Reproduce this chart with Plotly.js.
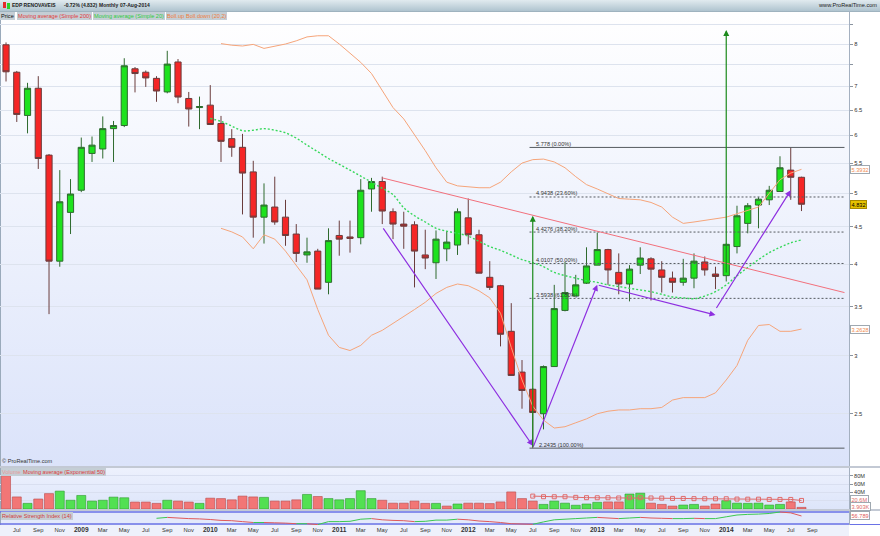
<!DOCTYPE html>
<html><head><meta charset="utf-8">
<script src="https://cdn.plot.ly/plotly-3.0.1.min.js"></script>
<style>
body{margin:0;background:#fff;}
#wrap{position:relative;width:880px;height:536px;overflow:hidden;background:#fff;font-family:"Liberation Sans",Arial,sans-serif;}
.bg{position:absolute;}
#chart{position:absolute;left:0;top:0;width:880px;height:536px;z-index:2;}
.t{position:absolute;white-space:nowrap;font-size:5.6px;line-height:9px;z-index:3;}
.h{position:absolute;white-space:nowrap;font-size:5px;line-height:9px;z-index:3;font-weight:bold;color:#1c1c1c;}
.box{position:absolute;white-space:nowrap;font-size:5.6px;line-height:8px;height:8px;background:#c4ced5;z-index:3;padding:0 1px;}
</style></head>
<body>
<div id="wrap">
  <div class="bg" style="left:0;top:0;width:880px;height:11px;background:linear-gradient(#e1eaef,#afc4cf);border-bottom:1px solid #9fb3bf;"></div>
  <div class="bg" style="left:0;top:12px;width:849px;height:454px;background:linear-gradient(#ffffff,#dbe3fa);border-left:1px solid #9aaabb;box-sizing:border-box;"></div>
  <div class="bg" style="left:0;top:466px;width:880px;height:2px;background:#c3c9d4;"></div>
  <div class="bg" style="left:0;top:468px;width:849px;height:41px;background:linear-gradient(#edf1fd,#dde5fa);border-left:1px solid #9aaabb;box-sizing:border-box;"></div>
  <div class="bg" style="left:0;top:509px;width:880px;height:2px;background:#c3c9d4;"></div>
  <div class="bg" style="left:0;top:511px;width:849px;height:14px;background:#e3e9fb;border-left:1px solid #9aaabb;box-sizing:border-box;"></div>
  <div class="bg" style="left:0;top:525px;width:849px;height:11px;background:#eef1fb;"></div>
  <div class="bg" style="left:849px;top:523.5px;width:31px;height:1.5px;background:#6a72e6;"></div>
  <div id="chart"></div>
  <div class="bg" style="left:3px;top:2px;width:3px;height:6px;background:#e52b2b;z-index:3;"></div>
  <div class="bg" style="left:7px;top:3px;width:3px;height:6px;background:#2bd12b;z-index:3;"></div>
  <div class="h" style="left:12px;top:1px;">EDP RENOVAVEIS</div>
  <div class="h" style="left:64px;top:1px;">-0.72% (4.832)</div>
  <div class="h" style="left:99px;top:1px;">Monthly</div>
  <div class="h" style="left:120px;top:1px;">07-Aug-2014</div>
  <div class="t" style="right:3px;top:1px;color:#1c1c1c;">www.ProRealTime.com</div>
  <div class="box" style="left:0;top:12px;color:#111;">Price</div>
  <div class="box" style="left:17px;top:12px;color:#e23a3a;">Moving average (Simple 200)</div>
  <div class="box" style="left:93px;top:12px;color:#2fcb41;">Moving average (Simple 20)</div>
  <div class="box" style="left:166px;top:12px;color:#ef7d3c;">Boll.up</div>
  <div class="box" style="left:185px;top:12px;color:#ef7d3c;">Boll.down (20,2)</div>
  <div class="t" style="left:2px;top:457px;color:#333;">© ProRealTime.com</div>
  <div class="box" style="left:1px;top:468px;color:#e49a9a;">Volume</div>
  <div class="box" style="left:22px;top:468px;color:#dd3b3b;">Moving average (Exponential 50)</div>
  <div class="box" style="left:1px;top:512px;color:#d23c3c;">Relative Strength Index (14)</div>
</div>
<script>
// ---- data ----
const months = ['2008-06','2008-07','2008-08','2008-09','2008-10','2008-11','2008-12',
'2009-01','2009-02','2009-03','2009-04','2009-05','2009-06','2009-07','2009-08','2009-09','2009-10','2009-11','2009-12',
'2010-01','2010-02','2010-03','2010-04','2010-05','2010-06','2010-07','2010-08','2010-09','2010-10','2010-11','2010-12',
'2011-01','2011-02','2011-03','2011-04','2011-05','2011-06','2011-07','2011-08','2011-09','2011-10','2011-11','2011-12',
'2012-01','2012-02','2012-03','2012-04','2012-05','2012-06','2012-07','2012-08','2012-09','2012-10','2012-11','2012-12',
'2013-01','2013-02','2013-03','2013-04','2013-05','2013-06','2013-07','2013-08','2013-09','2013-10','2013-11','2013-12',
'2014-01','2014-02','2014-03','2014-04','2014-05','2014-06','2014-07','2014-08'];

const open  = [7.98,7.32,6.39,6.96,5.64,4.04,4.71, 5.05,5.67,5.75,6.13,6.19,7.40,7.32,7.18,6.88,7.56,6.74,6.55,
 6.60,6.23,5.94,5.78,5.35,4.64,4.79,4.64,4.40,4.12,4.17,3.78, 4.38,4.36,4.35,5.07,5.19,4.72,4.54,4.53,4.12,4.02,4.20,4.25,
 4.63,4.39,3.84,3.74,3.24,2.85,2.70,2.50,2.90,3.46,3.62,3.77, 3.99,4.19,3.90,3.76,3.99,4.07,3.93,3.83,3.78,3.83,4.03,3.88,
 3.86,4.23,4.55,4.82,4.90,5.03,5.38,5.26];
const high  = [8.04,7.35,7.08,7.23,5.66,5.38,5.23, 5.96,5.98,6.37,6.28,7.65,7.44,7.36,7.23,7.83,7.63,6.88,6.78,
 7.03,6.38,6.12,6.03,5.54,5.16,5.27,4.90,4.54,4.35,4.20,4.48, 4.59,4.59,5.23,5.25,5.27,4.77,4.72,4.58,4.46,4.45,4.44,4.77,
 4.92,4.46,4.04,3.75,3.54,2.96,2.71,2.91,3.75,4.03,3.87,4.22, 4.42,4.20,4.14,3.99,4.22,4.09,4.04,3.91,4.07,4.14,4.10,3.97,
 4.27,4.81,4.85,4.94,5.12,5.62,5.778,5.27];
const low   = [7.11,6.26,6.04,5.40,3.42,3.97,4.40, 5.02,5.52,5.58,5.52,6.16,6.87,6.99,6.67,6.85,6.64,6.17,6.12,
 6.20,5.52,5.61,4.68,4.35,4.27,4.53,4.24,4.03,4.02,3.70,3.64, 4.11,4.15,4.26,4.72,4.54,4.33,4.20,3.72,3.94,3.82,4.04,4.12,
 4.26,3.89,3.69,3.09,2.82,2.54,2.2435,2.38,2.90,3.45,3.62,3.76, 3.99,3.75,3.64,3.56,3.88,3.57,3.66,3.66,3.74,3.71,3.86,3.70,
 3.79,4.14,4.41,4.48,4.82,5.03,4.90,4.73];
const close = [7.33,6.41,6.96,5.58,4.04,4.87,4.99, 5.78,5.82,6.13,6.19,7.47,7.29,7.19,6.90,7.51,6.77,6.52,6.57,
 6.21,5.89,5.78,5.33,4.64,4.82,4.57,4.38,4.14,4.16,3.70,4.31, 4.33,4.34,5.05,5.19,4.73,4.54,4.51,4.17,4.08,4.33,4.29,4.72,
 4.39,3.89,3.72,3.21,2.82,2.69,2.51,2.90,3.48,3.66,3.75,3.98, 4.19,3.93,3.76,3.94,4.08,3.94,3.84,3.78,3.83,4.04,3.93,3.85,
 4.26,4.66,4.81,4.91,5.05,5.42,5.26,4.832];

// volume in millions
const volume = [80,29,13.5,24,37,43,21, 32.5,19,21,28.5,27,16.7,16.7,13.5,21,19,16.7,13.5,
 26,25,22,31,29,28,19,19,22,35,30,25, 22,25,44,25,21,14,14,19,13.5,13.5,7,12,
 14,14,13,17,41,25,19,11,19,14,9,12, 16,17,17,36,38,14,11,7,9.5,11,7,12,
 20,14,13.5,14,9.5,11,17,3.903];
const volEma50 = [null,null,null,null,null,null,null,null,null,null,null,null,null,null,null,null,null,null,null,null,
 null,null,null,null,null,null,null,null,null,null,null,null,null,null,null,null,null,null,null,null,
 null,null,null,null,null,null,null,null,null,
 31,29.5,29.4,29.4,28,27.2,27,27,26.5,27,27.2,26.5,26.2,25.5,25.4,24.8,24.6,24.5,24.6,23.8,23.6,23.6,23,23,23,20.6];

const sma20 = [null,null,null,null,null,null,null,null,null,null,null,null,null,null,null,null,null,null,null,
 6.33,6.27,6.18,6.09,6.10,6.13,6.10,6.05,5.95,5.82,5.70,5.58,5.48,5.38,5.28,5.18,5.08,4.98,4.78,4.66,4.57,4.48,
 4.44,4.41,4.37,4.30,4.23,4.18,4.12,4.06,4.02,3.97,3.90,3.86,3.83,3.80,3.78,3.75,3.73,3.71,3.69,3.67,3.64,3.61,
 3.60,3.59,3.62,3.67,3.75,3.86,3.96,4.06,4.15,4.22,4.28,4.32];
const bollUp = [null,null,null,null,null,null,null,null,null,null,null,null,null,null,null,null,null,null,null,null,
 8.01,7.97,7.95,7.99,7.89,7.94,8.00,8.08,8.18,8.21,8.21,8.00,7.77,7.55,7.29,6.90,6.55,6.32,6.02,5.72,5.42,5.18,5.12,
 5.10,5.09,5.09,5.18,5.35,5.50,5.56,5.57,5.52,5.42,5.27,5.14,5.07,5.00,4.92,4.91,4.90,4.86,4.79,4.64,4.55,4.57,
 4.59,4.61,4.64,4.69,4.74,4.79,5.00,5.22,5.33,5.3932];
const bollDown = [null,null,null,null,null,null,null,null,null,null,null,null,null,null,null,null,null,null,null,null,
 4.48,4.43,4.36,4.20,4.39,4.33,4.17,3.98,3.81,3.47,3.20,3.08,3.05,3.10,3.20,3.25,3.32,3.40,3.47,3.55,3.65,3.72,3.76,
 3.74,3.68,3.60,3.43,3.08,2.78,2.56,2.45,2.39,2.40,2.43,2.46,2.50,2.52,2.53,2.53,2.54,2.54,2.55,2.61,2.63,2.63,
 2.63,2.67,2.78,2.91,3.15,3.30,3.31,3.24,3.24,3.2628];

const rsi14 = [null,null,null,null,null,null,null,null,null,null,null,null,null,null,
 49,52,50,48,47,45,42,41,38,35,35,34,33,31,31,28,38,38,39,46,48,44,42,41,38,39,43,43,46,44,40,38,35,31,30,29,
 37,44,46,48,50,52,50,48,50,52,50,49,48,48,49,48,48,54,60,62,63,65,70,67,56.789];

const tickLabels = ['Jul','Sep','Nov','2009','Mar','May','Jul','Sep','Nov','2010','Mar','May','Jul','Sep','Nov',
 '2011','Mar','May','Jul','Sep','Nov','2012','Mar','May','Jul','Sep','Nov','2013','Mar','May','Jul','Sep','Nov',
 '2014','Mar','May','Jul','Sep'];
const priceTicks = [2.5,3,3.5,4,4.5,5,5.5,6,6.5,7,7.5,8,8.5];
const priceTickText = ['2.5','3','3.5','4','4.5','5','5.5','6','6.5','7','','8',''];
const volTagText = ['20.6M','3.903K'];

// drawn objects
const fibLevels = [5.778,4.9438,4.4276,4.0107,3.5938,2.2435];
const fibPct = ['0.00%','23.60%','38.20%','50.00%','61.80%','100.00%'];
const fibFrom = '2012-07', fibTo = '2014-12';
const trendLine = [['2011-05',5.25],['2014-12',3.66]];
const purpleArrows = [
  [['2011-05',4.50],['2012-07',2.26]],
  [['2012-07',2.2435],['2013-01',3.75]],
  [['2013-01',3.75],['2013-12',3.41]],
  [['2013-12',3.47],['2014-07',5.05]]
];
const greenArrows = [
  [['2012-07',2.2435],['2012-07',4.66]],
  [['2014-01',3.88],['2014-01',8.36]]
];

// ---- build ----
const mIdx = m => { const p = m.split('-').map(Number); return (p[0]-2008)*12 + p[1] - 6; };
const L = Math.log10;
const xs = months.map(mIdx);
const xRange = [-0.56, 78.42];

const traces = [];
const fibSolid = {x:[],y:[]}, fibDash = {x:[],y:[]};
fibLevels.forEach((v,i)=>{
  const t = (i===0 || i===fibLevels.length-1) ? fibSolid : fibDash;
  t.x.push(mIdx(fibFrom)-0.3, mIdx(fibTo), null); t.y.push(v, v, null);
});
traces.push({type:'scatter',mode:'lines',x:fibSolid.x,y:fibSolid.y,line:{color:'#555a60',width:1},hoverinfo:'skip'});
traces.push({type:'scatter',mode:'lines',x:fibDash.x,y:fibDash.y,line:{color:'#555a60',width:1,dash:'2px,2px'},hoverinfo:'skip'});

traces.push({type:'candlestick',x:xs,open:open,high:high,low:low,close:close,
  increasing:{fillcolor:'#1ee21e',line:{color:'#2e6a2e',width:1}},
  decreasing:{fillcolor:'#f52626',line:{color:'#6a3c3c',width:1}},
  whiskerwidth:0,hoverinfo:'skip'});

traces.push({type:'scatter',mode:'lines',x:xs,y:bollUp,line:{color:'#f6a57a',width:1},hoverinfo:'skip'});
traces.push({type:'scatter',mode:'lines',x:xs,y:bollDown,line:{color:'#f6a57a',width:1},hoverinfo:'skip'});
traces.push({type:'scatter',mode:'lines',x:xs,y:sma20,line:{color:'#36d85a',width:1.4,dash:'2px,2px',shape:'spline'},hoverinfo:'skip'});
traces.push({type:'scatter',mode:'lines',x:trendLine.map(p=>mIdx(p[0])),y:trendLine.map(p=>p[1]),line:{color:'#f2707c',width:1},hoverinfo:'skip'});

const volColors = volume.map((v,i)=> (i>0 && close[i]>close[i-1]) ? '#52e052' : '#f27676');
const volLine = volume.map((v,i)=> (i>0 && close[i]>close[i-1]) ? '#2f9a2f' : '#b84a4a');
traces.push({type:'bar',x:xs,y:volume,xaxis:'x',yaxis:'y2',marker:{color:volColors,line:{color:volLine,width:0.6}},hoverinfo:'skip'});
traces.push({type:'scatter',mode:'lines+markers',x:xs,y:volEma50,xaxis:'x',yaxis:'y2',
  line:{color:'#e06a6a',width:1},marker:{symbol:'square-open',size:4,color:'#e06a6a',line:{width:1}},hoverinfo:'skip'});

const up={x:[],y:[]}, dn={x:[],y:[]};
for(let i=0;i<rsi14.length-1;i++){
  if(rsi14[i]==null||rsi14[i+1]==null) continue;
  const t = rsi14[i+1]>=rsi14[i] ? up : dn;
  t.x.push(i,i+1,null); t.y.push(rsi14[i],rsi14[i+1],null);
}
traces.push({type:'scatter',mode:'lines',x:[xRange[0],xRange[1],null,xRange[0],xRange[1]],y:[70,70,null,30,30],xaxis:'x',yaxis:'y3',line:{color:'#6a72e6',width:1.5},hoverinfo:'skip'});
traces.push({type:'scatter',mode:'lines',x:up.x,y:up.y,xaxis:'x',yaxis:'y3',line:{color:'#3cc850',width:1},hoverinfo:'skip'});
traces.push({type:'scatter',mode:'lines',x:dn.x,y:dn.y,xaxis:'x',yaxis:'y3',line:{color:'#e05a5a',width:1},hoverinfo:'skip'});

const ann = [];
fibLevels.forEach((v,i)=>{
  const last = i===fibLevels.length-1;
  ann.push({xref:'x',yref:'y',x:mIdx(fibFrom)+(last?0.35:0.1),y:L(v),text:v+' ('+fibPct[i]+')',showarrow:false,
    xanchor:'left',yanchor:'middle',yshift:3.5,font:{size:5.6,color:'#333'}});
});
purpleArrows.forEach(a=>{
  ann.push({xref:'x',yref:'y',axref:'x',ayref:'y',x:mIdx(a[1][0]),y:L(a[1][1]),ax:mIdx(a[0][0]),ay:L(a[0][1]),
    text:'',showarrow:true,arrowhead:2,arrowsize:1,arrowwidth:1.2,arrowcolor:'#8e2fe0',standoff:0,startstandoff:0});
});
greenArrows.forEach(a=>{
  ann.push({xref:'x',yref:'y',axref:'x',ayref:'y',x:mIdx(a[1][0]),y:L(a[1][1]),ax:mIdx(a[0][0]),ay:L(a[0][1]),
    text:'',showarrow:true,arrowhead:2,arrowsize:1,arrowwidth:1.2,arrowcolor:'#1c8a1c',standoff:0,startstandoff:0});
});
const last = close.length-1;
const tag = (yref,y,text,color,bg,border)=>({xref:'paper',x:1,xanchor:'left',xshift:1,yref:yref,y:y,text:text,showarrow:false,
  font:{size:5.6,color:color},bgcolor:bg,bordercolor:border,borderwidth:1,borderpad:0.5});
ann.push(tag('y',L(bollUp[last]),bollUp[last].toFixed(4),'#f08a50','#ffffff','#9fa8b0'));
ann.push(tag('y',L(close[last]),String(close[last]),'#000','#e6c200','#a88a00'));
ann.push(tag('y',L(bollDown[last]),bollDown[last].toFixed(4),'#f08a50','#ffffff','#9fa8b0'));
ann.push(tag('y2',volEma50[last]+1.5,volTagText[0],'#e06a6a','#ffffff','#9fa8b0'));
ann.push(tag('y2',volume[last]+1,volTagText[1],'#e06a6a','#ffffff','#9fa8b0'));
ann.push(tag('y3',rsi14[last],rsi14[last].toFixed(3),'#e05a5a','#ffffff','#9fa8b0'));

const ticktext = tickLabels.map(t=> /^\d{4}$/.test(t) ? '<b><span style="font-size:6.6px">'+t+'</span></b>' : t);
const tickvals = tickLabels.map((t,k)=> mIdx('2008-07') + 2*k);

const H = 525;
const dom = (top,bottom)=>[(H-bottom)/H,(H-top)/H];
const layout = {
  width:880,height:536,margin:{l:0,r:31,t:0,b:11},
  paper_bgcolor:'rgba(0,0,0,0)',plot_bgcolor:'rgba(0,0,0,0)',
  showlegend:false,boxgap:0.18,bargap:0.16,
  font:{family:'"Liberation Sans", Arial, sans-serif',size:5.6,color:'#333'},
  xaxis:{range:xRange,anchor:'y3',tickmode:'array',tickvals:tickvals,ticktext:ticktext,showgrid:false,zeroline:false,
    ticks:'',showline:false,rangeslider:{visible:false},tickfont:{size:5.8,color:'#333'},fixedrange:true},
  yaxis:{type:'log',domain:dom(11,466),range:[L(2.121),L(8.875)],side:'right',anchor:'x',tickmode:'array',
    tickvals:priceTicks,ticktext:priceTickText,gridcolor:'#dde3ee',gridwidth:1,ticks:'outside',ticklen:3,tickcolor:'#8a94a0',
    showline:true,linecolor:'#a4b0c0',zeroline:false,tickfont:{size:5.8,color:'#333'},fixedrange:true},
  yaxis2:{domain:dom(468,509),range:[0,98.5],side:'right',anchor:'x',tickmode:'array',tickvals:[20,40,60,80],
    ticktext:['','40M','60M','80M'],gridcolor:'#d9dff0',ticks:'outside',ticklen:3,tickcolor:'#8a94a0',showline:true,
    linecolor:'#a4b0c0',zeroline:false,tickfont:{size:5.6,color:'#333'},fixedrange:true},
  yaxis3:{domain:dom(511,525),range:[26.7,73.3],side:'right',anchor:'x',showticklabels:false,showgrid:false,
    showline:true,linecolor:'#a4b0c0',zeroline:false,ticks:'',fixedrange:true},
  annotations:ann
};
Plotly.newPlot('chart',traces,layout,{displayModeBar:false,staticPlot:true});
</script>
</body></html>
